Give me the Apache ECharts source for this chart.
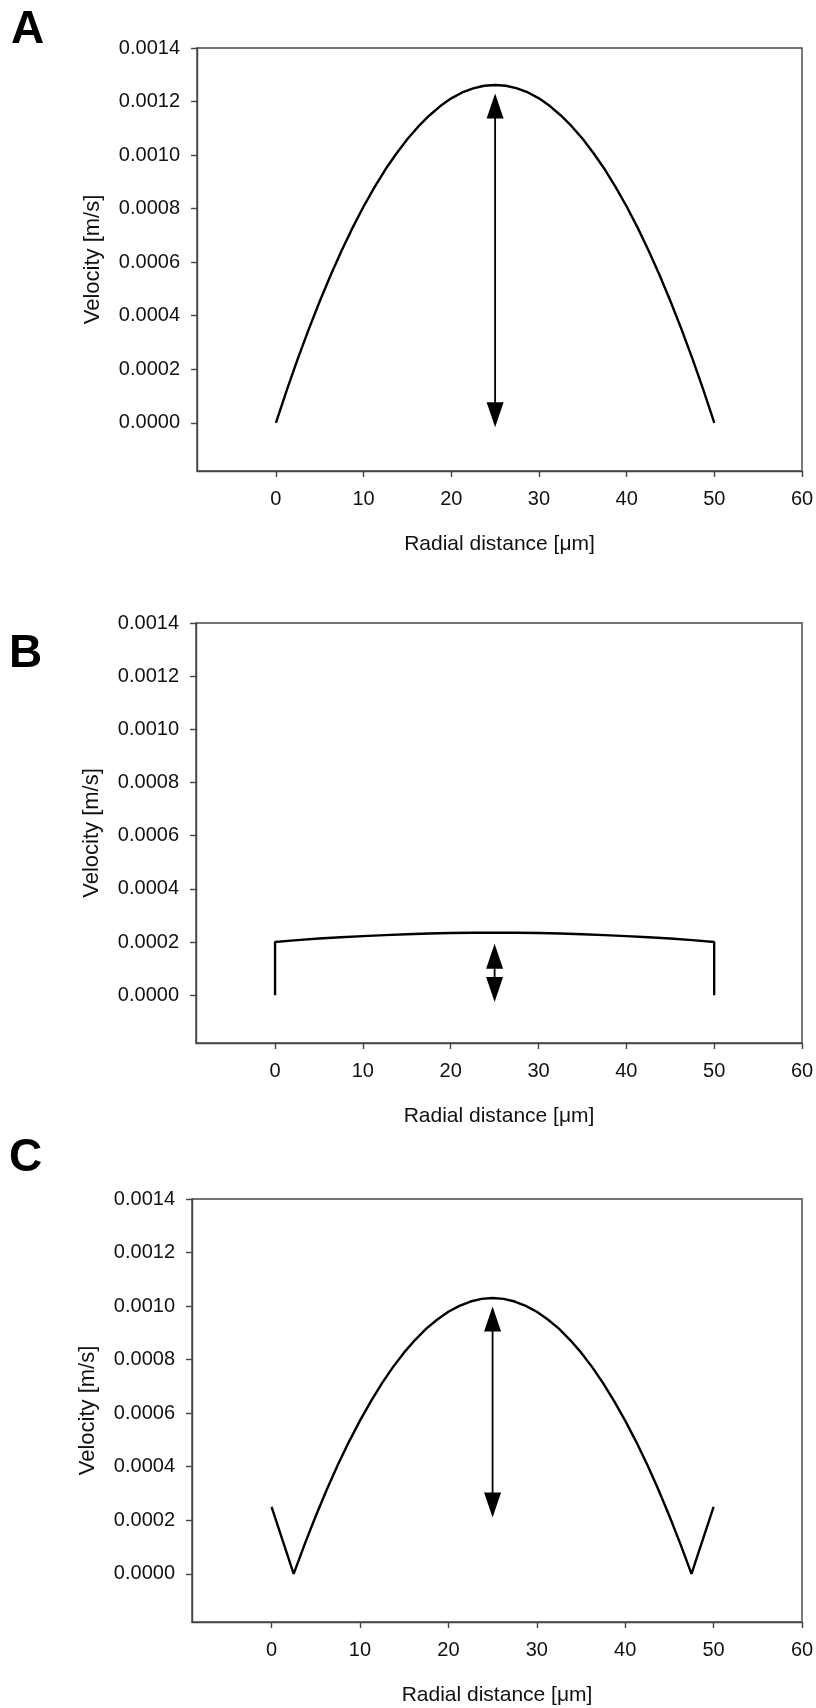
<!DOCTYPE html>
<html><head><meta charset="utf-8">
<script src="https://cdn.jsdelivr.net/npm/echarts@6/dist/echarts.min.js"></script>
<style>html,body{margin:0;padding:0;background:#fff}#c{width:816px;height:1708px}</style>
</head><body><div id="c"></div>
<script>
// ---- data ----
const xTicks = [0, 10, 20, 30, 40, 50, 60];
const yTicks = [0, 0.0002, 0.0004, 0.0006, 0.0008, 0.0010, 0.0012, 0.0014];
const panelLetters = ['A', 'B', 'C'];
const xTitle = 'Radial distance [\u03bcm]';
const yTitle = 'Velocity [m/s]';

// Panel A: parabolic profile
const xA = [0, 1.25, 2.5, 3.75, 5, 6.25, 7.5, 8.75, 10, 11.25, 12.5, 13.75, 15, 16.25, 17.5, 18.75, 20, 21.25, 22.5, 23.75, 25,
            26.25, 27.5, 28.75, 30, 31.25, 32.5, 33.75, 35, 36.25, 37.5, 38.75, 40, 41.25, 42.5, 43.75, 45, 46.25, 47.5, 48.75, 50];
const vA = [0, 0.000123, 0.000240, 0.000350, 0.000454, 0.000552, 0.000644, 0.000729, 0.000808, 0.000880, 0.000947,
            0.001006, 0.001060, 0.001107, 0.001148, 0.001183, 0.001212, 0.001234, 0.001249, 0.001259, 0.001262,
            0.001259, 0.001249, 0.001234, 0.001212, 0.001183, 0.001148, 0.001107, 0.001060, 0.001006, 0.000947,
            0.000880, 0.000808, 0.000729, 0.000644, 0.000552, 0.000454, 0.000350, 0.000240, 0.000123, 0];

// Panel B: plug-like profile
const xB = [0, 0, 2.5, 5, 7.5, 10, 12.5, 15, 17.5, 20, 22.5, 25, 27.5, 30, 32.5, 35, 37.5, 40, 42.5, 45, 47.5, 50, 50];
const vB = [0, 0.000200, 0.000207, 0.000213, 0.000218, 0.000222, 0.000226, 0.000229, 0.000232, 0.000234, 0.000235, 0.000235,
            0.000235, 0.000234, 0.000232, 0.000229, 0.000226, 0.000222, 0.000218, 0.000213, 0.000207, 0.000200, 0];

// Panel C: profile with wall reversal
const xC = [0, 2.5, 3.75, 5, 6.25, 7.5, 8.75, 10, 11.25, 12.5, 13.75, 15, 16.25, 17.5, 18.75, 20, 21.25, 22.5, 23.75, 25,
            26.25, 27.5, 28.75, 30, 31.25, 32.5, 33.75, 35, 36.25, 37.5, 38.75, 40, 41.25, 42.5, 43.75, 45, 46.25, 47.5, 50];
const vC = [0.00025, 0, 0.000111, 0.000216, 0.000315, 0.000407, 0.000493, 0.000572, 0.000645, 0.000712, 0.000773,
            0.000827, 0.000874, 0.000916, 0.000950, 0.000979, 0.001001, 0.001017, 0.001027, 0.001030,
            0.001027, 0.001017, 0.001001, 0.000979, 0.000950, 0.000916, 0.000874, 0.000827, 0.000773, 0.000712,
            0.000645, 0.000572, 0.000493, 0.000407, 0.000315, 0.000216, 0.000111, 0, 0.00025];

// double arrows: [x, lower tip, upper tip]
const arrowA = [25, -0.000017, 0.00123];
const arrowB = [25, -0.0000255, 0.000193];
const arrowC = [25, 0.00021, 0.000998];

// ---- layout / style ----
const FONT = '"Liberation Sans", Arial, sans-serif';
const AX = '#444';
const TXT = '#111';
const grids = [
  {left: 197, top: 48, width: 605, height: 423},
  {left: 196, top: 623, width: 606, height: 420},
  {left: 192, top: 1199, width: 610, height: 423}
];
const letterPos = [[11, 30], [9, 654], [9, 1158]];

function pairs(xs, ys) { return xs.map((x, i) => [x, ys[i]]); }

const xAxes = grids.map((g, i) => ({
  type: 'value', gridIndex: i, min: -9, max: 60,
  axisLine: {show: true, onZero: false, lineStyle: {color: AX, width: 1.4}},
  axisTick: {show: true, inside: false, length: 6, customValues: xTicks, lineStyle: {color: AX, width: 1.4}},
  axisLabel: {customValues: xTicks, margin: 18, fontSize: 20, fontFamily: FONT, color: TXT},
  splitLine: {show: false},
  name: xTitle, nameLocation: 'middle', nameGap: 63,
  nameTextStyle: {fontSize: 21, fontFamily: FONT, color: TXT}
}));
const yAxes = grids.map((g, i) => ({
  type: 'value', gridIndex: i, min: -0.00018, max: 0.0014,
  axisLine: {show: true, onZero: false, lineStyle: {color: AX, width: 1.4}},
  axisTick: {show: true, inside: false, length: 6, customValues: yTicks, lineStyle: {color: AX, width: 1.4}},
  axisLabel: {customValues: yTicks, margin: 17, fontSize: 20, fontFamily: FONT, color: TXT,
              formatter: v => Number(v).toFixed(4)},
  splitLine: {show: false},
  name: yTitle, nameLocation: 'middle', nameGap: 93, nameRotate: 90,
  nameTextStyle: {fontSize: 22, fontFamily: FONT, color: TXT}
}));

const lineStyle = {color: '#000', width: 2.4};
function curve(i, data) {
  return {type: 'line', xAxisIndex: i, yAxisIndex: i, data: data, showSymbol: false, symbol: 'none',
          smooth: false, lineStyle: lineStyle, itemStyle: {color: '#000'}, z: 2, silent: true};
}
function arrowRender(params, api) {
  const x = api.value(0), y1 = api.value(1), y2 = api.value(2);
  const pb = api.coord([x, y1]), pt = api.coord([x, y2]);
  const h = 25, w = 8.5;
  return {type: 'group', children: [
    {type: 'line', shape: {x1: pb[0], y1: pb[1] - h + 1, x2: pt[0], y2: pt[1] + h - 1},
     style: {stroke: '#000', lineWidth: 1.8}},
    {type: 'polygon', shape: {points: [[pt[0], pt[1]], [pt[0] - w, pt[1] + h], [pt[0] + w, pt[1] + h]]},
     style: {fill: '#000'}},
    {type: 'polygon', shape: {points: [[pb[0], pb[1]], [pb[0] - w, pb[1] - h], [pb[0] + w, pb[1] - h]]},
     style: {fill: '#000'}}
  ]};
}
function arrow(i, a) {
  return {type: 'custom', xAxisIndex: i, yAxisIndex: i, data: [a], encode: {x: 0, y: [1, 2]},
          renderItem: arrowRender, z: 3, silent: true, clip: false};
}

const chart = echarts.init(document.getElementById('c'), null, {renderer: 'canvas'});
chart.setOption({
  animation: false,
  backgroundColor: '#fff',
  grid: grids.map(g => Object.assign({show: true, borderColor: AX, borderWidth: 1.4, backgroundColor: 'transparent',
                                       containLabel: false, outerBoundsMode: 'none'}, g)),
  xAxis: xAxes,
  yAxis: yAxes,
  graphic: panelLetters.map((t, i) => ({
    type: 'text', x: letterPos[i][0], y: letterPos[i][1], z: 10,
    style: {text: t, font: 'bold 46px ' + FONT, fill: '#000', align: 'left', verticalAlign: 'middle'}
  })),
  series: [
    curve(0, pairs(xA, vA)),
    arrow(0, arrowA),
    curve(1, pairs(xB, vB)),
    arrow(1, arrowB),
    curve(2, pairs(xC, vC)),
    arrow(2, arrowC)
  ]
});
</script></body></html>
